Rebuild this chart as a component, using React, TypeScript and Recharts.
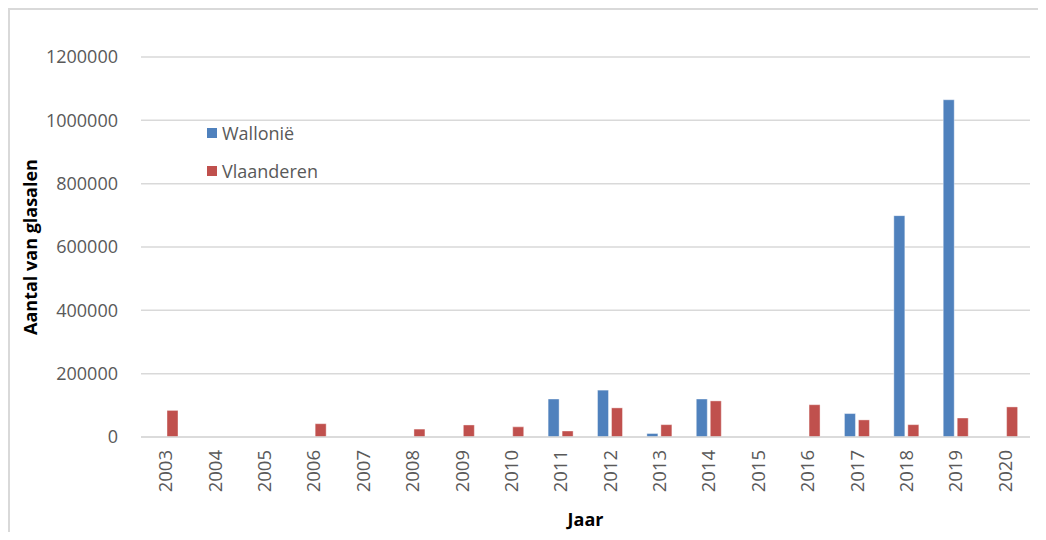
import React from "react";
import { BarChart, Bar, XAxis, YAxis, CartesianGrid, Legend } from "recharts";

const years = ["2003","2004","2005","2006","2007","2008","2009","2010","2011","2012","2013","2014","2015","2016","2017","2018","2019","2020"];
const wallonie = [null,null,null,null,null,null,null,null,120000,148000,11000,120000,null,null,74000,699000,1065000,null];
const vlaanderen = [84000,null,null,42000,null,25000,38000,32000,19000,92000,39000,114000,null,102000,54000,39000,60000,95000];
const yTicks = [0,200000,400000,600000,800000,1000000,1200000];

const data = years.map((y, i) => ({ year: y, Wallonië: wallonie[i], Vlaanderen: vlaanderen[i] }));

const FONT = "'Open Sans', 'Liberation Sans', sans-serif";
const BLUE = "#4F81BD";
const RED = "#C0504D";

const XTick = (props: any) => {
  const { x, y, payload } = props;
  return (
    <g transform={`translate(${x},${y})`}>
      <text transform="rotate(-90)" x={-5} y={0} dy="0.35em" textAnchor="end" fill="#595959" fontSize={18.5} fontFamily={FONT}>
        {payload.value}
      </text>
    </g>
  );
};

const LegendContent = () => {
  const items = [{ name: "Wallonië", color: BLUE }, { name: "Vlaanderen", color: RED }];
  return (
    <div style={{ fontFamily: FONT, fontSize: 18, color: "#595959" }}>
      {items.map((it) => (
        <div key={it.name} style={{ display: "flex", alignItems: "center", height: 38 }}>
          <span style={{ display: "inline-block", width: 10, height: 10, background: it.color, marginRight: 5 }} />
          <span>{it.name}</span>
        </div>
      ))}
    </div>
  );
};

export default function App() {
  return (
    <div style={{ width: 1030, height: 522, borderLeft: "2px solid #d9d9d9", borderTop: "2px solid #d9d9d9", background: "#fff" }}>
      <BarChart
        width={1028}
        height={520}
        data={data}
        margin={{ top: 47, right: 8, left: 0, bottom: 0 }}
        barSize={11}
        barGap={3}
      >
        <CartesianGrid vertical={false} stroke="#d9d9d9" strokeWidth={1.5} />
        <XAxis
          dataKey="year"
          height={93}
          tick={<XTick />}
          tickLine={false}
          axisLine={{ stroke: "#d9d9d9", strokeWidth: 1.5 }}
          interval={0}
          label={{ value: "Jaar", position: "insideBottom", offset: 4, fill: "#000", fontSize: 18, fontWeight: 700, fontFamily: FONT }}
        />
        <YAxis
          width={131}
          domain={[0, 1200000]}
          ticks={yTicks}
          interval={0}
          tickLine={false}
          axisLine={false}
          tickSize={0}
          tickMargin={23}
          tick={{ fill: "#595959", fontSize: 18, fontFamily: FONT }}
          label={{ value: "Aantal van glasalen", angle: -90, position: "insideLeft", offset: 21, fill: "#000", fontSize: 18, fontWeight: 700, fontFamily: FONT, style: { textAnchor: "middle" } }}
        />
        <Legend
          layout="horizontal"
          verticalAlign="middle"
          align="center"
          content={<LegendContent />}
          wrapperStyle={{ left: 197, top: 104, width: 150 }}
        />
        <Bar dataKey="Wallonië" fill={BLUE} stroke="rgba(255,255,255,0.4)" isAnimationActive={false} />
        <Bar dataKey="Vlaanderen" fill={RED} stroke="rgba(255,255,255,0.4)" isAnimationActive={false} />
      </BarChart>
    </div>
  );
}
